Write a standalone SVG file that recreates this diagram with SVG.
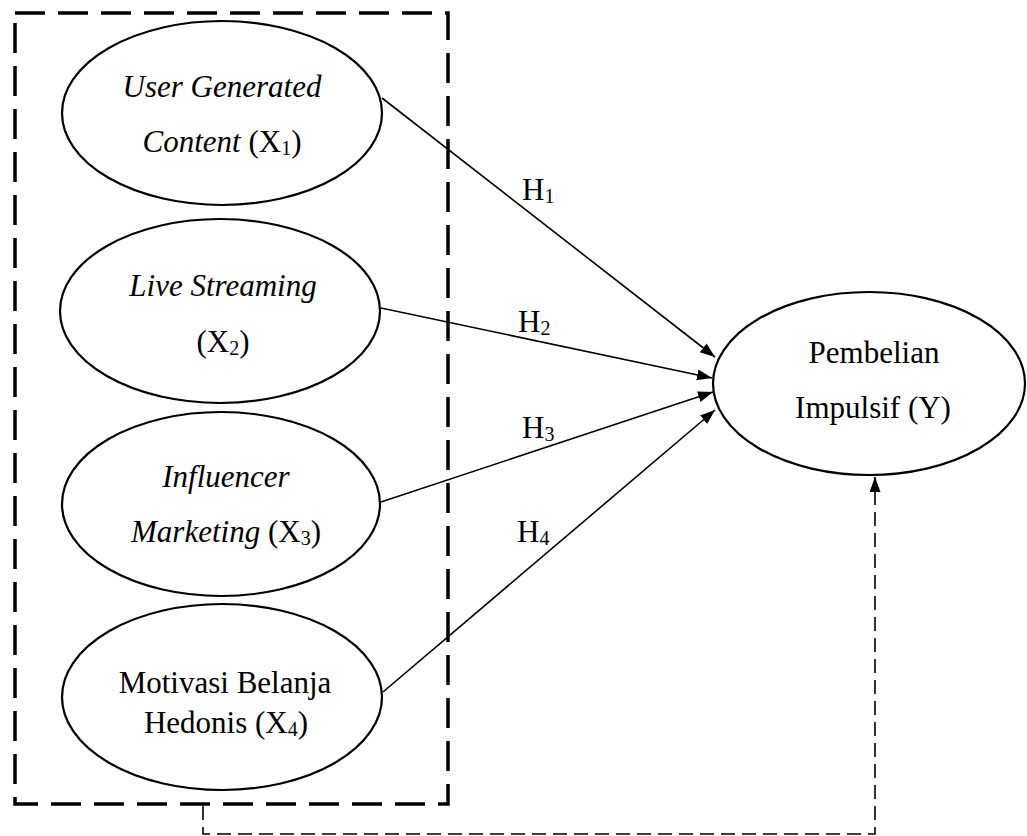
<svg xmlns="http://www.w3.org/2000/svg" width="1027" height="836" viewBox="0 0 1027 836">
<style>
  .node ellipse { fill: #fff; stroke: #000; stroke-width: 2.2; }
  text { font-family: "Liberation Serif", "Times New Roman", serif; font-size: 31px; fill: #000; text-anchor: middle; }
  .it { font-style: italic; }
  .sub { font-size: 20px; }
  .lbl { text-anchor: start; }
  .edge { stroke: #000; stroke-width: 1.6; fill: none; }
  .frame { stroke: #000; stroke-width: 3.5; fill: none; stroke-dasharray: 30 13; }
  .dash { stroke: #000; stroke-width: 1.6; fill: none; stroke-dasharray: 14 7; }
</style>
<defs>
  <marker id="arr" markerUnits="userSpaceOnUse" markerWidth="16" markerHeight="12" refX="15" refY="5.5" orient="auto">
    <path d="M0,0 L15,5.5 L0,11 z" fill="#000" stroke="none"/>
  </marker>
</defs>
<rect class="frame" x="15" y="13" width="433" height="791"/>
<g id="connectors">
  <line class="edge" x1="382" y1="98" x2="715" y2="357" marker-end="url(#arr)"/>
  <line class="edge" x1="381" y1="308" x2="712" y2="378" marker-end="url(#arr)"/>
  <line class="edge" x1="381" y1="502" x2="713" y2="392" marker-end="url(#arr)"/>
  <line class="edge" x1="383" y1="692" x2="715" y2="410" marker-end="url(#arr)"/>
  <path class="dash" d="M203,806 V834 H875 V477" marker-end="url(#arr)"/>
  <text class="lbl" x="522" y="200">H<tspan class="sub" dy="3">1</tspan></text>
  <text class="lbl" x="518" y="332">H<tspan class="sub" dy="3">2</tspan></text>
  <text class="lbl" x="522" y="438">H<tspan class="sub" dy="3">3</tspan></text>
  <text class="lbl" x="517" y="542">H<tspan class="sub" dy="3">4</tspan></text>
</g>
<g id="x1" class="node">
  <ellipse cx="222" cy="113" rx="160" ry="92"/>
  <text x="222" y="97" class="it">User Generated</text>
  <text x="222" y="152"><tspan class="it">Content</tspan> (X<tspan class="sub" dy="3">1</tspan><tspan dy="-3">)</tspan></text>
</g>
<g id="x2" class="node">
  <ellipse cx="220" cy="311" rx="160" ry="92"/>
  <text x="223" y="296" class="it">Live Streaming</text>
  <text x="223" y="352">(X<tspan class="sub" dy="3">2</tspan><tspan dy="-3">)</tspan></text>
</g>
<g id="x3" class="node">
  <ellipse cx="221" cy="504" rx="159" ry="92"/>
  <text x="226" y="487" class="it">Influencer</text>
  <text x="226" y="542"><tspan class="it">Marketing</tspan> (X<tspan class="sub" dy="3">3</tspan><tspan dy="-3">)</tspan></text>
</g>
<g id="x4" class="node">
  <ellipse cx="222" cy="697" rx="160" ry="93"/>
  <text x="225" y="693">Motivasi Belanja</text>
  <text x="226" y="733">Hedonis (X<tspan class="sub" dy="3">4</tspan><tspan dy="-3">)</tspan></text>
</g>
<g id="y" class="node">
  <ellipse cx="869" cy="383.5" rx="156" ry="91.5"/>
  <text x="874" y="363">Pembelian</text>
  <text x="873" y="418">Impulsif (Y)</text>
</g>
</svg>
